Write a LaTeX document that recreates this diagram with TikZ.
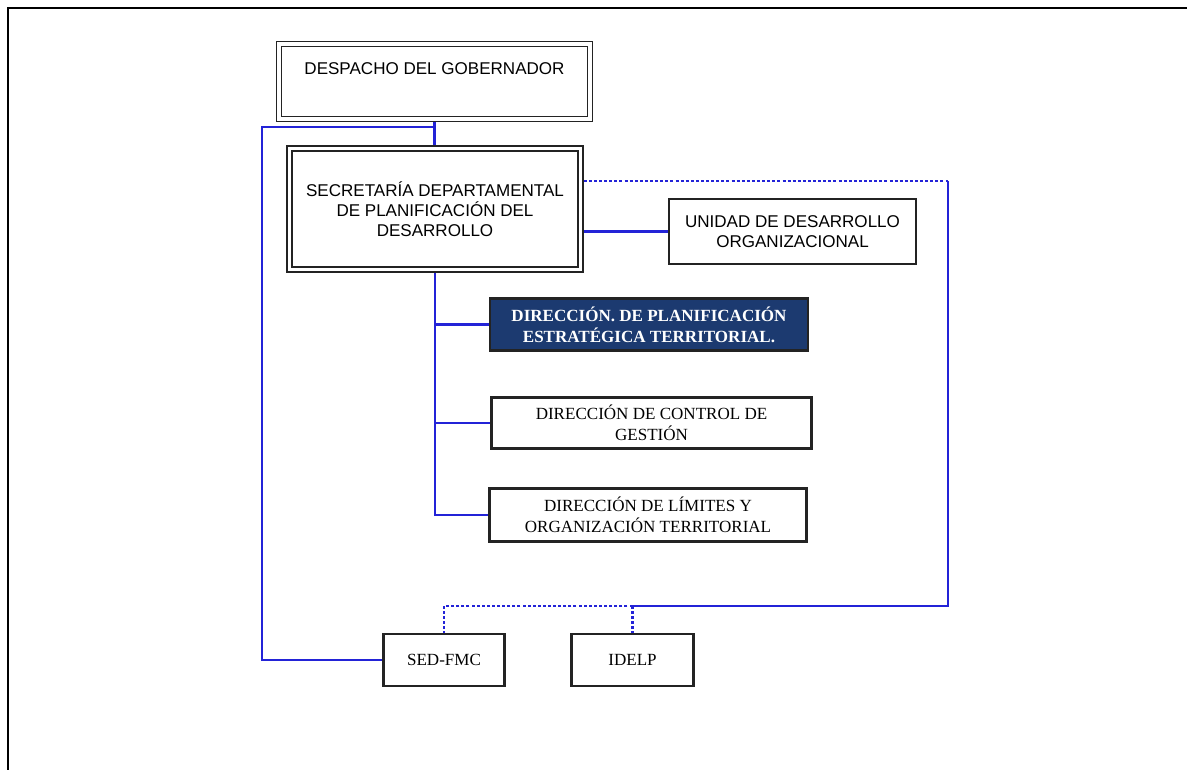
\documentclass[tikz,border=0pt]{standalone}
\usepackage{fontspec}
\setmainfont{Liberation Serif}
\newfontfamily\arialfont{Liberation Sans}
\usepackage{tikz}
\usetikzlibrary{arrows,shapes}
\definecolor{linkblue}{RGB}{35,35,215}
\definecolor{navy}{RGB}{28,58,112}
\definecolor{boxgray}{RGB}{35,35,35}

\begin{document}
\begin{tikzpicture}[x=0.02cm,y=-0.02cm,
  dbox/.style={draw=boxgray,double,double distance=1.8pt,line width=1pt,outer sep=1.9pt,
    inner sep=0pt,align=center,font=\arialfont\fontsize{9.7}{11.5}\selectfont},
  sbox/.style={draw=boxgray,line width=1.2pt,inner sep=0pt,align=center,
    font=\fontsize{9.7}{12}\selectfont},
  conn/.style={draw=linkblue,line width=1.3pt},
  dotconn/.style={draw=linkblue,line width=1.3pt,dash pattern=on 1.7pt off 1.2pt}]
  \useasboundingbox (0,0) rectangle (1187,770);
  \draw[line width=1.7pt] (8,770) -- (8,8) -- (1187,8);
  \node[dbox,minimum width=6.22cm,minimum height=1.5cm] (gob) at (434.5,81.5) {DESPACHO DEL GOBERNADOR\\\strut};
  \node[dbox,minimum width=5.82cm,minimum height=2.42cm] (sec) at (435,209) {SECRETAR\'IA DEPARTAMENTAL\\DE PLANIFICACI\'ON DEL\\DESARROLLO};
  \node[sbox,font=\arialfont\fontsize{9.7}{11.5}\selectfont,minimum width=4.94cm,minimum height=1.3cm] (uni) at (792.5,231.5) {UNIDAD DE DESARROLLO\\ORGANIZACIONAL};
  \node[sbox,fill=navy,text=white,font=\bfseries\fontsize{9.7}{12}\selectfont,minimum width=6.36cm,minimum height=1.04cm] (dpet) at (649,324.5) {DIRECCI\'ON. DE PLANIFICACI\'ON\\ESTRAT\'EGICA TERRITORIAL.};
  \node[sbox,minimum width=6.4cm,minimum height=1.02cm] (dcg) at (651.5,423) {DIRECCI\'ON DE CONTROL DE\\GESTI\'ON};
  \node[sbox,minimum width=6.34cm,minimum height=1.06cm] (dlot) at (648,515) {DIRECCI\'ON DE L\'IMITES Y\\ORGANIZACI\'ON TERRITORIAL};
  \node[sbox,minimum width=2.42cm,minimum height=1.04cm] (sed) at (444,660) {SED-FMC};
  \node[sbox,minimum width=2.44cm,minimum height=1.04cm] (idelp) at (632.5,660) {IDELP};
  \coordinate (jgob) at (434.5,127);
  \coordinate (lft) at (262,127);
  \coordinate (dr) at (948,181);
  \coordinate (db) at (948,606);
  % solid links
  \draw[conn] (gob.south) -- (gob.south |- sec.north);
  \draw[conn] (jgob) -- (lft) |- (sed.west);
  \draw[conn] (uni.west) -- (uni.west -| sec.east);
  \draw[conn] (sec.south) -- (sec.south |- dlot.west) -- (dlot.west);
  \draw[conn] (sec.south |- dpet.west) -- (dpet.west);
  \draw[conn] (sec.south |- dcg.west) -- (dcg.west);
  \draw[conn] (dr) -- (db) -- (idelp.north |- db);
  % dotted links
  \draw[dotconn] (sec.east |- dr) -- (dr);
  \draw[dotconn] (idelp.north |- db) -- (idelp.north);
  \draw[dotconn] (idelp.north |- db) -- (sed.north |- db) -- (sed.north);
\end{tikzpicture}
\end{document}
